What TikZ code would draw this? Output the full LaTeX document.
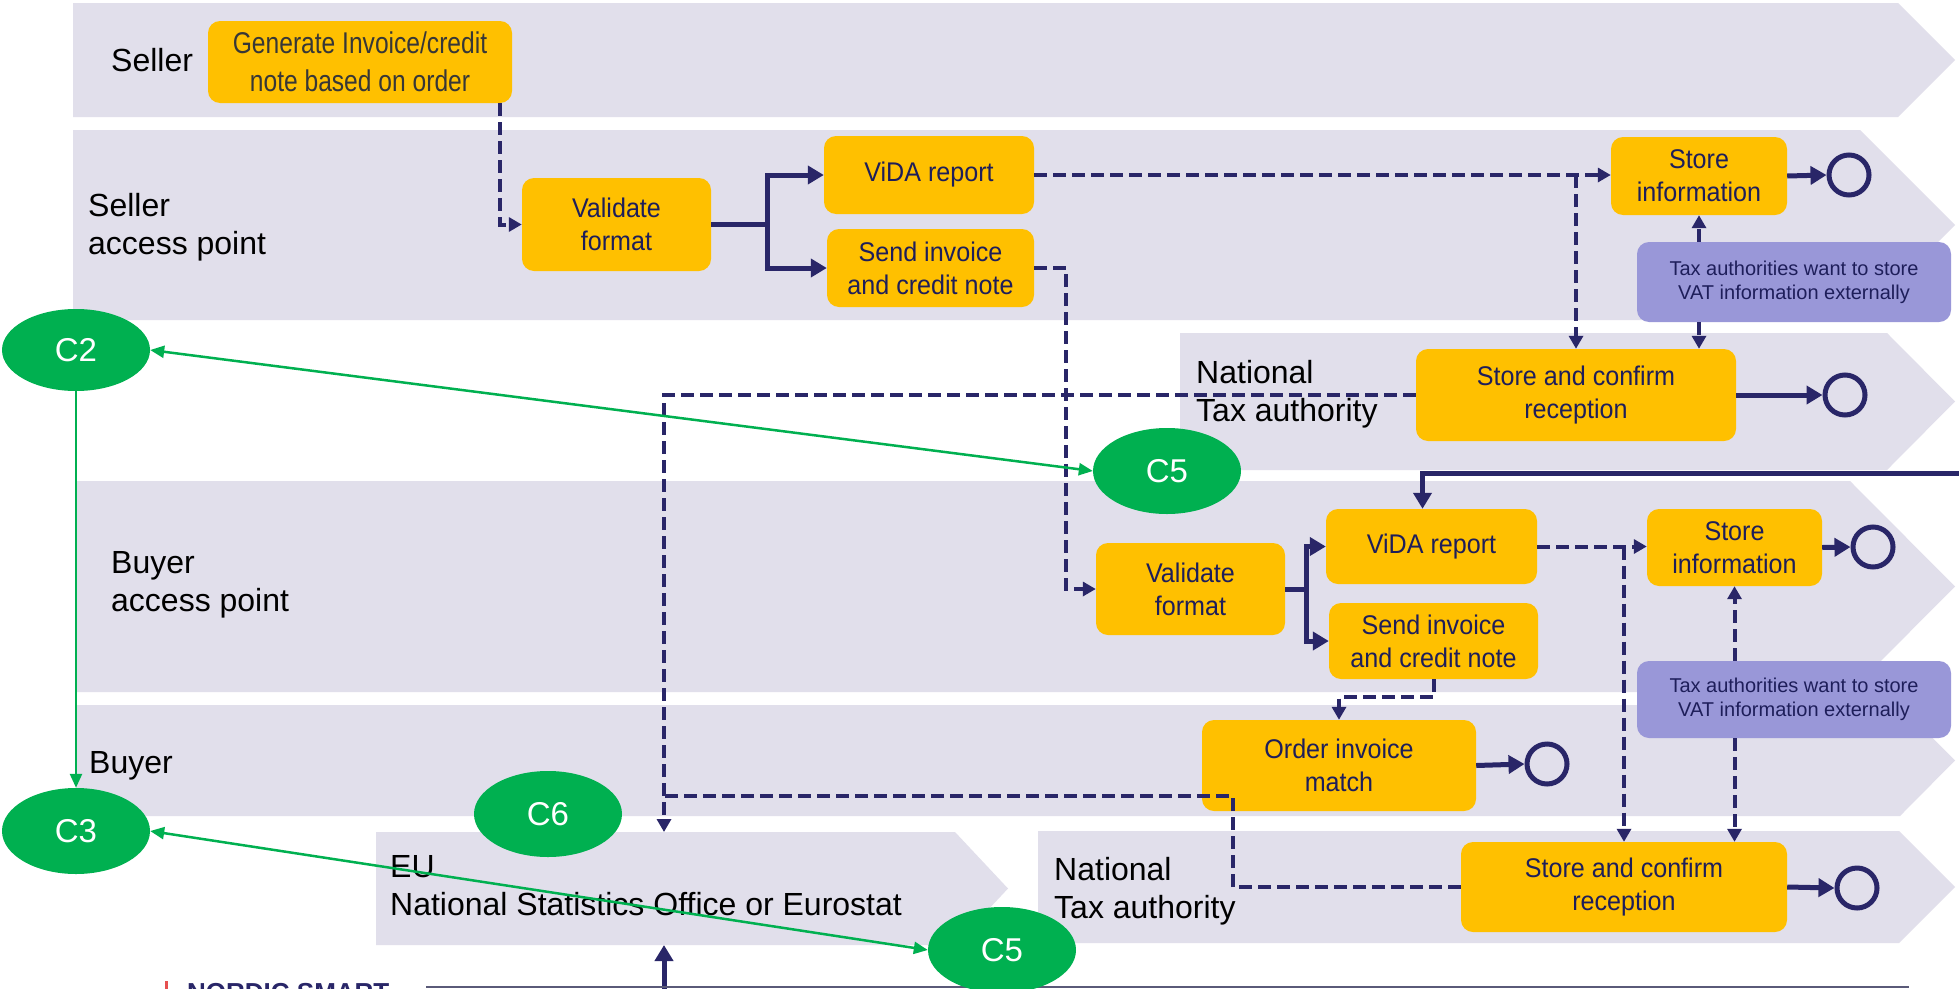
\documentclass[tikz,border=0pt]{standalone}
\usepackage{fontspec}
\setmainfont{Liberation Sans}
\newfontfamily\narrowfont[FakeStretch=0.82]{Liberation Sans}
\newfontfamily\boxfont[FakeStretch=0.93]{Liberation Sans}
\usetikzlibrary{arrows.meta,shapes.geometric,calc}
\definecolor{lanecol}{RGB}{225,223,235}
\definecolor{boxyellow}{RGB}{255,192,0}
\definecolor{navy}{RGB}{41,38,104}
\definecolor{navytext}{RGB}{30,30,90}
\definecolor{notecol}{RGB}{153,151,216}
\definecolor{cgreen}{RGB}{0,176,80}
\definecolor{gentext}{RGB}{55,55,55}
\begin{document}
\begin{tikzpicture}[x=1pt,y=-1pt,
  lane/.style={fill=lanecol,draw=none},
  lanelabel/.style={anchor=west,align=left,font=\fontsize{32}{38}\selectfont,text=black,inner sep=0},
  task/.style={fill=boxyellow,rounded corners=12pt,align=center,text=navytext,font=\boxfont\fontsize{27}{33}\selectfont,inner sep=0},
  note/.style={fill=notecol,rounded corners=12pt,align=center,text=navytext,font=\fontsize{20}{24}\selectfont,inner sep=0},
  endev/.style={circle,draw=navy,line width=5pt,minimum size=40pt,inner sep=0},
  cnode/.style={ellipse,fill=cgreen,text=white,font=\fontsize{33}{33}\selectfont,minimum width=148pt,minimum height=86pt,inner sep=0},
  flow/.style={draw=navy,line width=5pt,-{Triangle[length=16pt,width=18pt]}},
  msg/.style={draw=navy,line width=4pt,dash pattern=on 13pt off 6pt,-{Triangle[length=13pt,width=14pt]}},
  msgline/.style={draw=navy,line width=4pt,dash pattern=on 13pt off 6pt},
  gline/.style={draw=cgreen,line width=2.5pt},
  gtip/.style={-{Triangle[length=14pt,width=12pt]}},
  gboth/.style={{Triangle[length=14pt,width=12pt]}-{Triangle[length=14pt,width=12pt]}},
]
\useasboundingbox (0,0) rectangle (1959,988);
\fill[white] (0,0) rectangle (1959,988);

% lanes
\fill[lane] (73,3) -- (1898,3) -- (1955,60) -- (1898,117) -- (73,117) -- cycle;
\fill[lane] (73,130) -- (1860,130) -- (1955,225) -- (1860,320) -- (73,320) -- cycle;
\fill[lane] (1180,333) -- (1887,333) -- (1955,401.5) -- (1887,470) -- (1180,470) -- cycle;
\fill[lane] (76,481) -- (1850,481) -- (1955,586.5) -- (1850,692) -- (76,692) -- cycle;
\fill[lane] (76,705) -- (1900,705) -- (1955,760.5) -- (1900,816) -- (76,816) -- cycle;
\fill[lane] (376,832) -- (955,832) -- (1008,888.5) -- (955,945) -- (376,945) -- cycle;
\fill[lane] (1038,831) -- (1899,831) -- (1955,887) -- (1899,943) -- (1038,943) -- cycle;

% lane labels
\node[lanelabel] (lseller) at (111,60) {Seller};
\node[lanelabel] (lsap) at (88,227) {Seller\\access point};
\node[lanelabel] (lnta1) at (1196,394) {National\\Tax authority};
\node[lanelabel] (lbap) at (111,585) {Buyer\\access point};
\node[lanelabel] (lbuyer) at (89,766) {Buyer};
\node[lanelabel] (leu) at (390,886) {EU\\National Statistics Office or Eurostat};
\node[lanelabel] (lnta2) at (1054,891) {National\\Tax authority};

% seller side tasks
\node[task,minimum width=304pt,minimum height=82pt,text=gentext,font=\narrowfont\fontsize{30}{38}\selectfont] (gen) at (360,62) {Generate Invoice/credit\\note based on order};
\node[task,minimum width=189pt,minimum height=93pt] (val1) at (616.5,224.5) {Validate\\format};
\node[task,minimum width=210pt,minimum height=78pt] (vida1) at (929,175) {ViDA report};
\node[task,minimum width=207pt,minimum height=78pt] (send1) at (930.5,268) {Send invoice\\and credit note};
\node[task,minimum width=176pt,minimum height=78pt] (store1) at (1699,176) {Store\\information};
\node[note,minimum width=314pt,minimum height=80pt] (tax1) at (1794,282) {Tax authorities want to store\\VAT information externally};
\node[task,minimum width=320pt,minimum height=92pt] (sc1) at (1576,395) {Store and confirm\\reception};
\node[endev] (end1) at (1849,175) {};
\node[endev] (end2) at (1845,395) {};

% buyer side tasks
\node[task,minimum width=189pt,minimum height=92pt] (val2) at (1190.5,589) {Validate\\format};
\node[task,minimum width=211pt,minimum height=75pt] (vida2) at (1431.5,546.5) {ViDA report};
\node[task,minimum width=209pt,minimum height=76pt] (send2) at (1433.5,641) {Send invoice\\and credit note};
\node[task,minimum width=175pt,minimum height=77pt] (store2) at (1734.5,547.5) {Store\\information};
\node[note,minimum width=314pt,minimum height=77pt] (tax2) at (1794,699.5) {Tax authorities want to store\\VAT information externally};
\node[task,minimum width=274pt,minimum height=91pt] (oim) at (1339,765.5) {Order invoice\\match};
\node[task,minimum width=326pt,minimum height=90pt] (sc2) at (1624,887) {Store and confirm\\reception};
\node[endev] (end3) at (1873,547) {};
\node[endev] (end4) at (1547,764) {};
\node[endev] (end5) at (1857,888) {};

% free ends
\coordinate (eutop) at (664,832);
\coordinate (eubot) at (664,945);
\coordinate (merge) at (664,796);
\coordinate (ext) at (1962,473);
\coordinate (bottomin) at (664,992);

% seller flows
\draw[msg] (gen.south) ++(140,0) |- (val1.west);
\draw[flow] (val1.east) -- ++(56,0) |- (vida1.west);
\draw[flow] (val1.east) ++(56,0) |- (send1.west);
\draw[msg] (vida1.east) -- (vida1.east -| store1.west);
\draw[msg] (vida1.east -| sc1.north) -- (sc1.north);
\draw[msg] (send1.east) -- ++(32,0) |- (val2.west);
\draw[msg] (store1.south |- tax1.north) -- (store1.south);
\draw[msg] (store1.south |- tax1.south) -- (store1.south |- sc1.north);
\draw[flow] (store1.east) -- (end1.west);
\draw[flow] (sc1.east) -- (end2.west);
\draw[msg] (sc1.west) -| (eutop);

% buyer flows
\draw[flow] (ext) -| ($(vida2.north)+(-9,0)$);
\draw[flow] (val2.east) -- ++(21,0) |- (vida2.west);
\draw[flow] (val2.east) ++(21,0) |- (send2.west);
\draw[msg] (vida2.east) -- (vida2.east -| store2.west);
\draw[msg] (vida2.east -| sc2.north) -- (sc2.north);
\draw[msg] (store2.south |- tax2.north) -- (store2.south);
\draw[msg] (store2.south |- tax2.south) -- (store2.south |- sc2.north);
\draw[msg] (send2.south) -- ++(0,18) -| (oim.north);
\draw[flow] (store2.east) -- (end3.west);
\draw[flow] (oim.east) -- (end4.west);
\draw[flow] (sc2.east) -- (end5.west);
\draw[msgline] (sc2.west) -- ++(-228,0) |- (merge);
\draw[flow] (bottomin) -- (eubot);

% bottom fragments
\begin{scope}
\clip (0,0) rectangle (1959,988);
\draw[color={rgb,255:red,90;green,90;blue,120}, line width=1.5pt] (426,987) -- (1909,987);
\fill[color={rgb,255:red,230;green,80;blue,80}] (165,981) rectangle (168,992);
\node[anchor=north west,inner sep=0,text=navy,font=\bfseries\fontsize{26}{26}\selectfont] (brand) at (187,983) {NORDIC SMART};
\node[cnode] (c5b) at (1002,950) {C5};
\end{scope}

% green C nodes
\node[cnode,minimum height=82pt] (c2) at (76,350) {C2};
\node[cnode] (c3) at (76,831) {C3};
\node[cnode] (c5a) at (1167,471) {C5};
\node[cnode] (c6) at (548,814) {C6};

\draw[gline,gboth] (c2.east) -- (c5a.west);
\draw[gline,gtip] (c2.south) -- (c3.north);
\draw[gline,gboth] (c3.east) -- (c5b.west);
\end{tikzpicture}
\end{document}
